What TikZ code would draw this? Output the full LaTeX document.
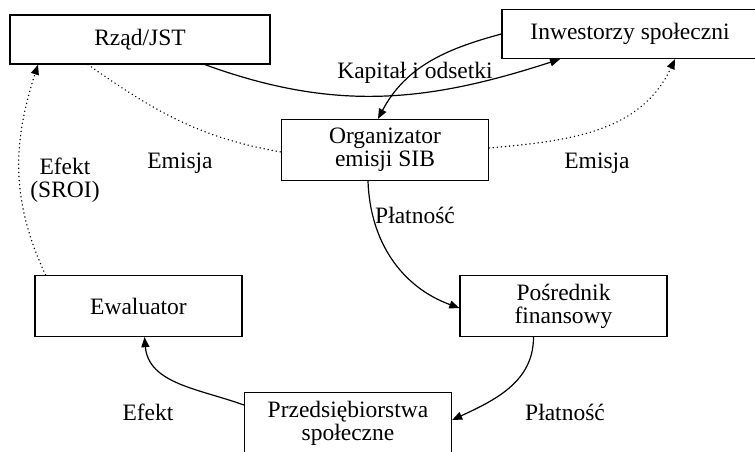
\documentclass[tikz,border=0pt]{standalone}
\usepackage{fontspec}
\setmainfont{Liberation Serif}
\usetikzlibrary{arrows.meta}

\tikzset{
    box/.style={draw, line width=1.3pt, minimum width=207pt, minimum height=61pt,
        inner sep=2pt},
    flow/.style={->, line width=1.2pt},
    hint/.style={line width=1.5pt, line cap=round, dash pattern=on 0.1pt off 4pt},
}

\begin{document}
\begin{tikzpicture}[x=1pt, y=1pt, >={Triangle[length=10pt,width=8pt]},
    font=\fontsize{23.5}{23}\selectfont, every node/.style={align=center}]
    \useasboundingbox (0,0) rectangle (755,451);

    \node[box, minimum width=260pt, minimum height=49pt] (rzad) at (140, 411.5) {Rząd/JST};
    \node[box, minimum width=256pt, minimum height=49pt] (inw) at (630, 417) {Inwestorzy społeczni};
    \node[box] (org) at (385, 301) {Organizator\\emisji SIB};
    \node[box] (ewal) at (138.5, 145) {Ewaluator};
    \node[box] (posr) at (563.5, 145) {Pośrednik\\finansowy};
    \node[box] (przed) at (348, 28) {Przedsiębiorstwa\\społeczne};

    \node (kapital) at (415, 378) {Kapitał i odsetki};
    \node (emisjaL) at (180, 288) {Emisja};
    \node (emisjaR) at (597, 288) {Emisja};
    \node (sroi) at (65, 271) {Efekt\\(SROI)};
    \node (plat1) at (415, 236) {Płatność};
    \node (plat2) at (565, 39) {Płatność};
    \node (efekt) at (148, 39) {Efekt};

    % money flows
    \draw[flow] ([xshift=65pt]rzad.south) to[out=-20, in=-162] ([xshift=-70pt]inw.south);
    \draw[flow] (inw.west) to[out=195, in=62] ([xshift=-7pt]org.north);
    \draw[flow] ([xshift=-17pt]org.south) to[out=-88, in=160] ([yshift=-2pt]posr.west);
    \draw[flow] ([xshift=-30pt]posr.south) to[out=-90, in=25] ([yshift=3pt]przed.east);
    \draw[flow] ([yshift=18pt]przed.west) to[out=160, in=-85] ([xshift=6pt]ewal.south);

    % issue and effect
    \draw[hint] ([xshift=-52pt]rzad.south) to[out=-35, in=170] ([yshift=-2pt]org.west);
    \draw[hint, ->] ([yshift=2pt]org.east) to[out=5, in=-115] ([xshift=45pt]inw.south);
    \draw[hint, ->] ([xshift=-93pt]ewal.north) to[out=115, in=-108] ([xshift=-102pt]rzad.south);
\end{tikzpicture}
\end{document}
